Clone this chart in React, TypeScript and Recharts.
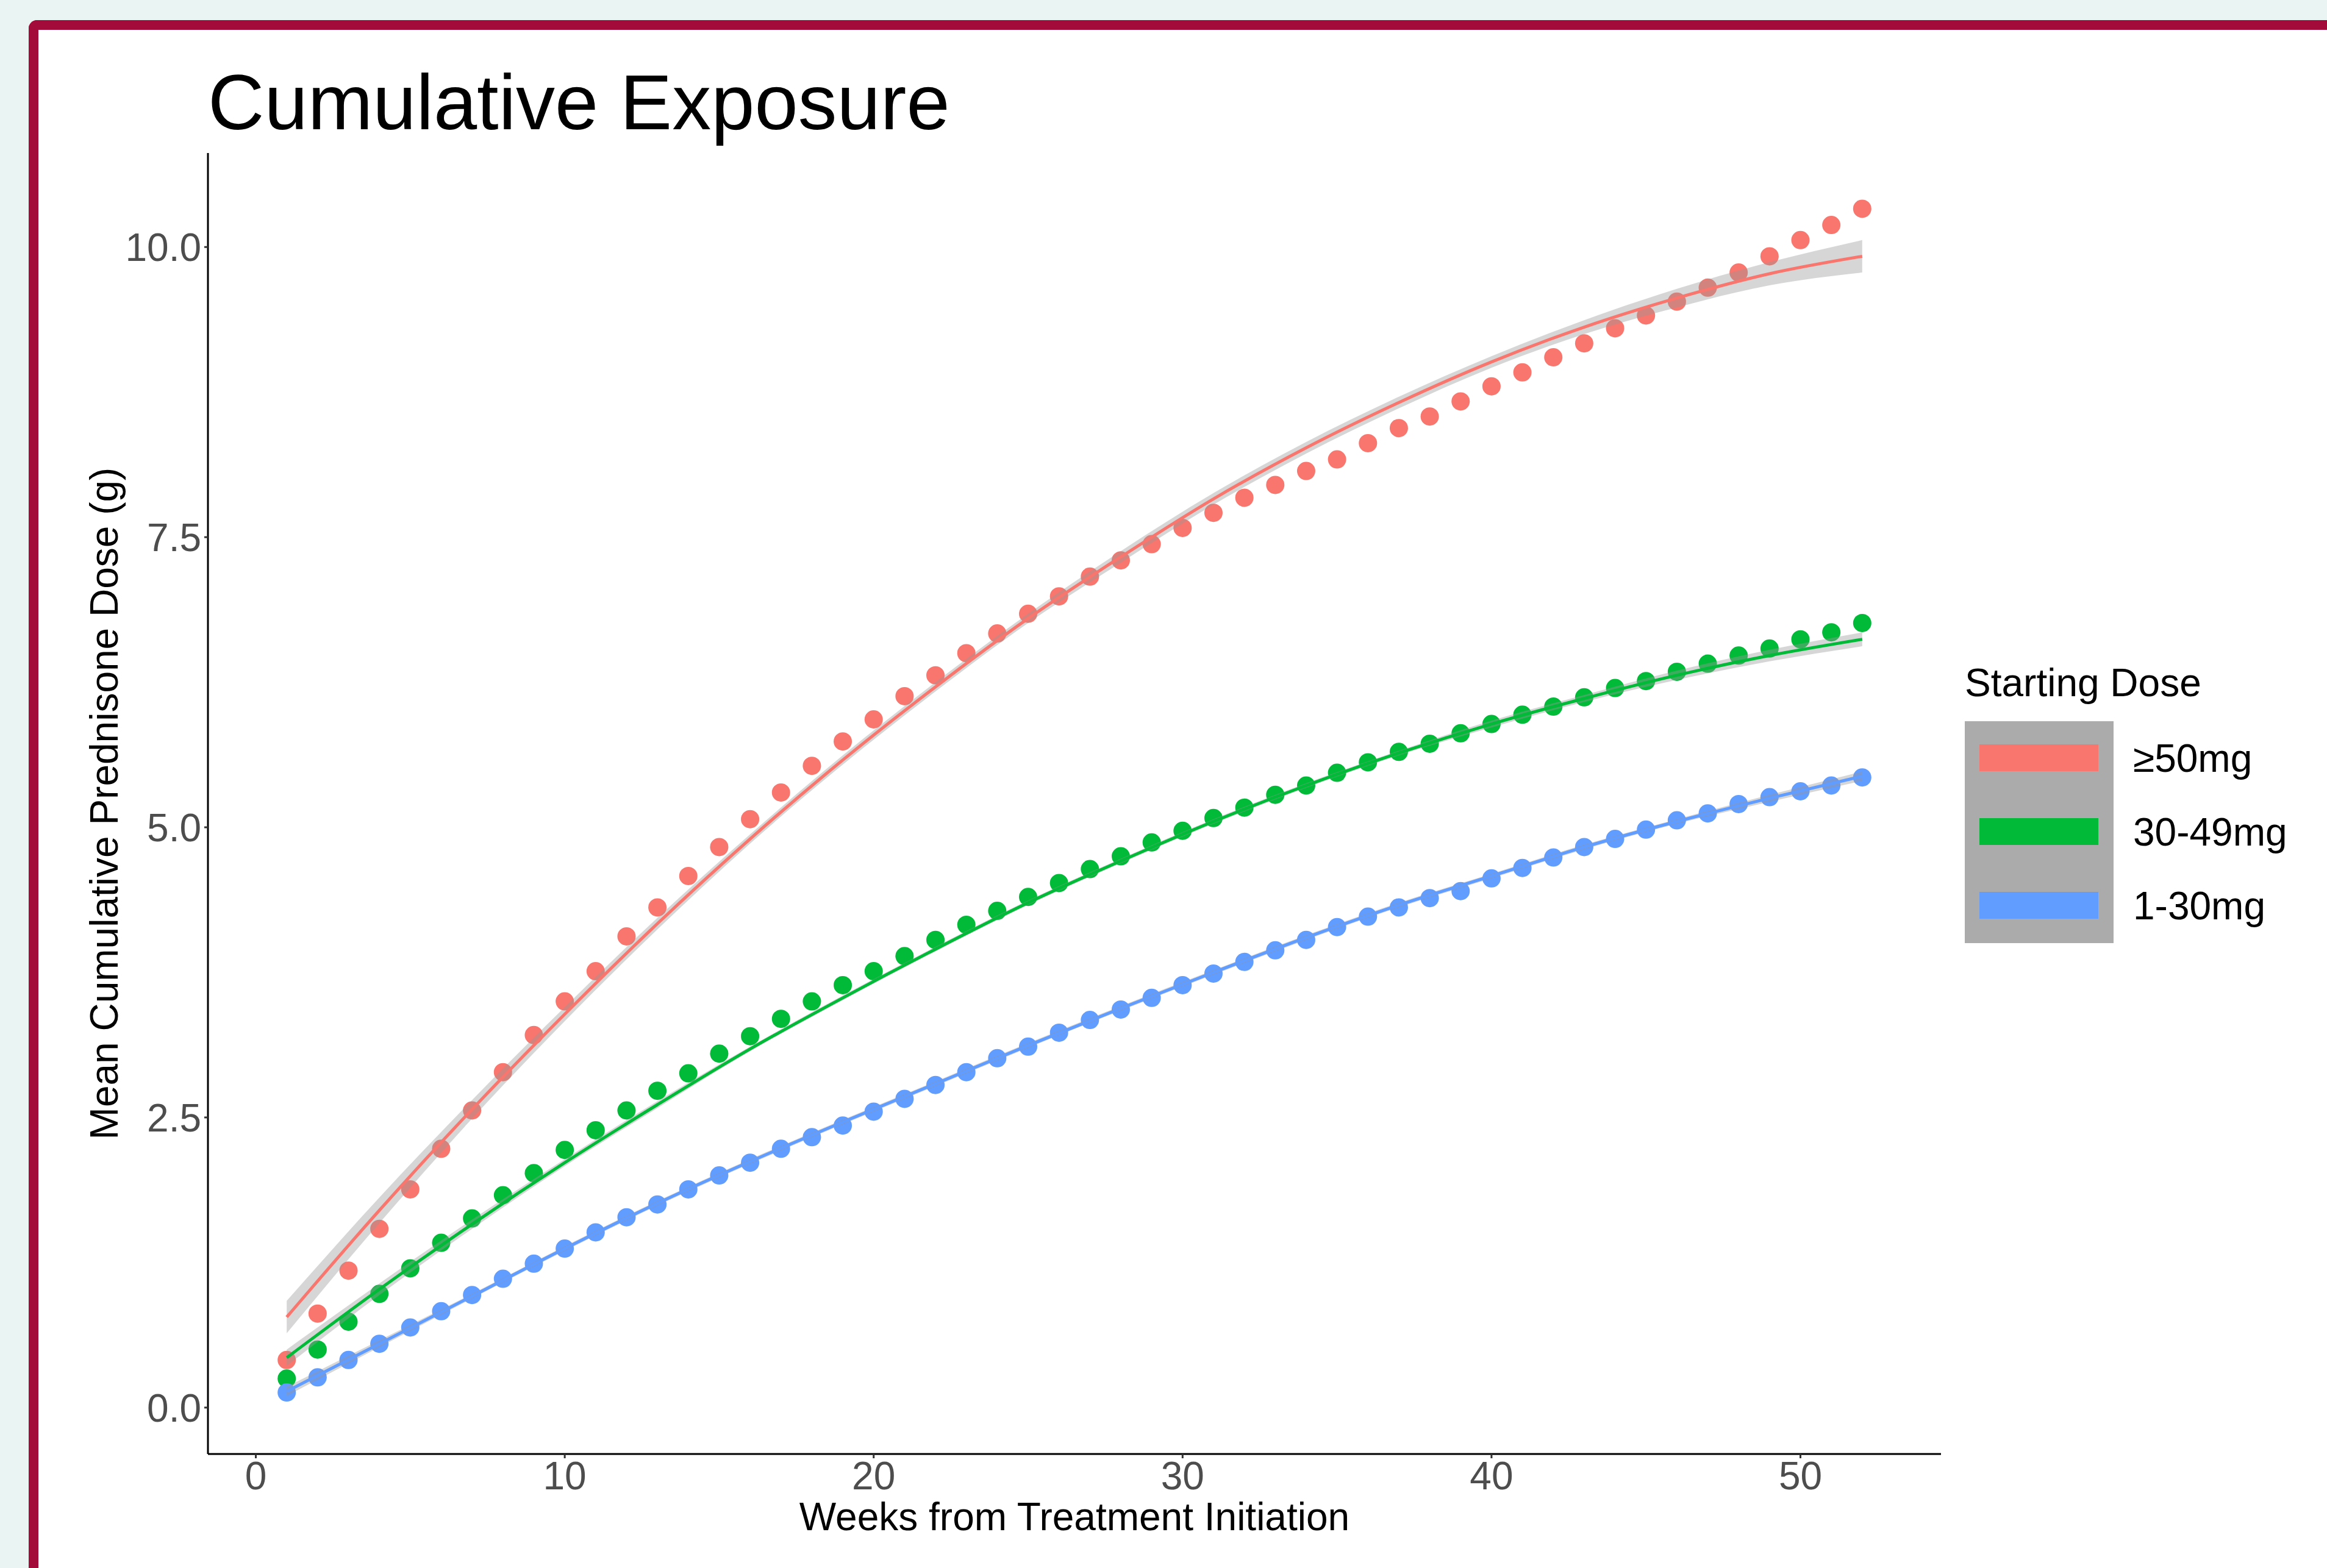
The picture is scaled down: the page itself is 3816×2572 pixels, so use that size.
import { ComposedChart, XAxis, YAxis, Scatter, Area, Line } from 'recharts'

const weeks = [
  1, 2, 3, 4, 5, 6, 7, 8, 9, 10, 11, 12, 13, 14, 15, 16, 17, 18, 19, 20, 21, 22, 23, 24, 25, 26,
  27, 28, 29, 30, 31, 32, 33, 34, 35, 36, 37, 38, 39, 40, 41, 42, 43, 44, 45, 46, 47, 48, 49, 50, 51, 52,
]

// mean cumulative dose per week (g)
const highDose = [
  0.41, 0.81, 1.18, 1.54, 1.88, 2.23, 2.56, 2.89, 3.21, 3.5, 3.76, 4.06, 4.31, 4.58, 4.83, 5.07,
  5.3, 5.53, 5.74, 5.93, 6.13, 6.31, 6.5, 6.67, 6.84, 6.99, 7.16, 7.3, 7.44, 7.58, 7.71, 7.84,
  7.95, 8.07, 8.17, 8.31, 8.44, 8.54, 8.67, 8.8, 8.92, 9.05, 9.17, 9.3, 9.41, 9.53, 9.65, 9.78,
  9.92, 10.06, 10.19, 10.33,
]
const midDose = [
  0.25, 0.5, 0.74, 0.98, 1.2, 1.42, 1.63, 1.83, 2.02, 2.22, 2.39, 2.56, 2.73, 2.88, 3.05, 3.2,
  3.35, 3.5, 3.64, 3.76, 3.89, 4.03, 4.16, 4.28, 4.4, 4.52, 4.64, 4.75, 4.87, 4.97, 5.08, 5.17,
  5.28, 5.36, 5.47, 5.56, 5.65, 5.72, 5.81, 5.89, 5.97, 6.04, 6.12, 6.2, 6.26, 6.34, 6.41, 6.48,
  6.54, 6.62, 6.68, 6.76,
]
const lowDose = [
  0.13, 0.26, 0.41, 0.55, 0.69, 0.83, 0.97, 1.11, 1.24, 1.37, 1.51, 1.64, 1.75, 1.88, 2.0, 2.11,
  2.23, 2.33, 2.43, 2.55, 2.66, 2.78, 2.89, 3.01, 3.11, 3.23, 3.34, 3.43, 3.53, 3.64, 3.74, 3.84,
  3.94, 4.03, 4.14, 4.23, 4.31, 4.39, 4.45, 4.56, 4.65, 4.74, 4.83, 4.9, 4.98, 5.06, 5.12, 5.2,
  5.26, 5.31, 5.36, 5.43,
]

// smoothed fit and confidence band, read every 3 weeks
const fitWeeks = [1, 4, 7, 10, 13, 16, 19, 22, 25, 28, 31, 34, 37, 40, 43, 46, 49, 52]
const highFit = [0.78, 1.7, 2.57, 3.39, 4.17, 4.9, 5.58, 6.21, 6.8, 7.33, 7.83, 8.27, 8.66, 9.01, 9.31, 9.56, 9.77, 9.92]
const highLow = [0.64, 1.59, 2.49, 3.33, 4.12, 4.86, 5.54, 6.17, 6.76, 7.28, 7.78, 8.22, 8.61, 8.96, 9.25, 9.48, 9.67, 9.78]
const highHigh = [0.92, 1.81, 2.65, 3.45, 4.22, 4.94, 5.62, 6.25, 6.84, 7.38, 7.88, 8.32, 8.71, 9.06, 9.37, 9.64, 9.87, 10.06]
const midFit = [0.43, 1.02, 1.58, 2.11, 2.61, 3.09, 3.53, 3.95, 4.35, 4.71, 5.05, 5.36, 5.64, 5.89, 6.11, 6.31, 6.48, 6.62]
const midLow = [0.36, 0.97, 1.54, 2.08, 2.58, 3.07, 3.51, 3.93, 4.33, 4.69, 5.03, 5.34, 5.62, 5.86, 6.08, 6.27, 6.43, 6.56]
const midHigh = [0.5, 1.07, 1.62, 2.14, 2.64, 3.11, 3.55, 3.97, 4.37, 4.73, 5.07, 5.38, 5.66, 5.92, 6.14, 6.35, 6.53, 6.68]
const lowFit = [0.14, 0.55, 0.96, 1.37, 1.76, 2.12, 2.46, 2.79, 3.12, 3.44, 3.75, 4.05, 4.33, 4.58, 4.83, 5.05, 5.25, 5.44]
const lowLow = [0.1, 0.52, 0.94, 1.35, 1.74, 2.1, 2.44, 2.77, 3.1, 3.42, 3.73, 4.03, 4.31, 4.56, 4.81, 5.03, 5.22, 5.4]
const lowHigh = [0.18, 0.58, 0.98, 1.39, 1.78, 2.14, 2.48, 2.81, 3.14, 3.46, 3.77, 4.07, 4.35, 4.6, 4.85, 5.07, 5.28, 5.48]

const xTicks = [0, 10, 20, 30, 40, 50]
const yTicks = [0, 2.5, 5, 7.5, 10]

const FONT = '"Liberation Sans", Arial, Helvetica, sans-serif'

const series = [
  { name: '≥50mg', color: '#F8766D', points: highDose, fit: highFit, low: highLow, high: highHigh },
  { name: '30-49mg', color: '#00BA38', points: midDose, fit: midFit, low: midLow, high: midHigh },
  { name: '1-30mg', color: '#619CFF', points: lowDose, fit: lowFit, low: lowLow, high: lowHigh },
].map((s) => ({
  ...s,
  pointData: weeks.map((w, i) => ({ week: w, y: s.points[i] })),
  fitData: fitWeeks.map((w, i) => ({ week: w, y: s.fit[i] })),
  bandData: fitWeeks.map((w, i) => ({ week: w, band: [s.low[i], s.high[i]] })),
}))

export default function App() {
  return (
    <div
      style={{
        position: 'absolute',
        left: 0,
        top: 0,
        width: 3816,
        height: 2572,
        overflow: 'hidden',
        background: '#EAF4F2',
        fontFamily: FONT,
      }}
    >
      <div
        style={{
          position: 'absolute',
          left: 47,
          top: 33,
          width: 3900,
          height: 2700,
          background: '#fff',
          borderTop: '16px solid #A30B3A',
          borderLeft: '16px solid #A30B3A',
          borderTopLeftRadius: 14,
        }}
      />
      <div style={{ position: 'absolute', left: 0, top: 0 }}>
        <ComposedChart width={3816} height={2572} margin={{ top: 251, right: 633, bottom: 0, left: 0 }}>
          <XAxis
            type="number"
            dataKey="week"
            domain={[-1.55, 54.55]}
            allowDataOverflow
            ticks={xTicks}
            height={187}
            tickSize={7}
            tickMargin={6}
            axisLine={{ stroke: '#000', strokeWidth: 3 }}
            tickLine={{ stroke: '#333', strokeWidth: 3 }}
            tick={{ fill: '#4D4D4D', fontSize: 64 }}
            label={{ value: 'Weeks from Treatment Initiation', position: 'insideBottom', offset: 62, fill: '#000', fontSize: 64 }}
          />
          <YAxis
            type="number"
            domain={[-0.4, 10.81]}
            allowDataOverflow
            ticks={yTicks}
            width={341}
            tickSize={6}
            tickMargin={5}
            tickFormatter={(v: number) => v.toFixed(1)}
            axisLine={{ stroke: '#000', strokeWidth: 3 }}
            tickLine={{ stroke: '#333', strokeWidth: 3 }}
            tick={{ fill: '#4D4D4D', fontSize: 64 }}
            label={{ value: 'Mean Cumulative Prednisone Dose (g)', angle: -90, position: 'center', fill: '#000', fontSize: 64 }}
          />
          {series.map((s) => (
            <Scatter
              key={`pts-${s.name}`}
              data={s.pointData}
              dataKey="y"
              isAnimationActive={false}
              zIndex={100}
              shape={(p: any) => <circle cx={p.cx} cy={p.cy} r={15} fill={s.color} />}
            />
          ))}
          {series.map((s) => (
            <Area
              key={`band-${s.name}`}
              data={s.bandData}
              dataKey="band"
              type="monotone"
              stroke="none"
              fill="#999999"
              fillOpacity={0.4}
              isAnimationActive={false}
              zIndex={200}
            />
          ))}
          {series.map((s) => (
            <Line
              key={`fit-${s.name}`}
              data={s.fitData}
              dataKey="y"
              type="monotone"
              stroke={s.color}
              strokeWidth={5}
              dot={false}
              activeDot={false}
              isAnimationActive={false}
              zIndex={300}
            />
          ))}
        </ComposedChart>
      </div>
      <svg width={3816} height={2572} style={{ position: 'absolute', left: 0, top: 0, pointerEvents: 'none' }}>
        <text x={341} y={212} fontSize={128} fill="#000" fontFamily={FONT}>
          Cumulative Exposure
        </text>
        <text x={3222} y={1142} fontSize={64} fill="#000" fontFamily={FONT}>
          Starting Dose
        </text>
        <rect x={3222} y={1183} width={244} height={364} fill="#ABABAB" />
        {series.map((s, i) => (
          <g key={`leg-${s.name}`}>
            <rect x={3246} y={1221 + i * 121} width={195} height={44} fill={s.color} />
            <text x={3498} y={1266 + i * 121} fontSize={64} fill="#000" fontFamily={FONT}>
              {s.name}
            </text>
          </g>
        ))}
      </svg>
    </div>
  )
}
